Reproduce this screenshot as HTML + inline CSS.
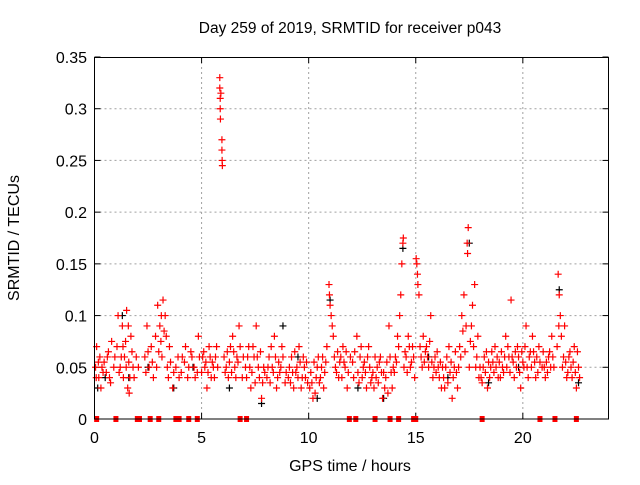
<!DOCTYPE html>
<html><head><meta charset="utf-8"><style>
body{margin:0;background:#fff;width:640px;height:480px;overflow:hidden;font-family:"Liberation Sans",sans-serif}
</style></head><body>
<svg id="chart" width="640" height="480" xmlns="http://www.w3.org/2000/svg" font-family="Liberation Sans, sans-serif" font-size="16">
<text x="350" y="33" text-anchor="middle" font-size="15.5">Day 259 of 2019, SRMTID for receiver p043</text>
<text x="350" y="471" text-anchor="middle">GPS time / hours</text>
<text transform="translate(19,238) rotate(-90)" text-anchor="middle">SRMTID / TECUs</text>
<g id="grid"></g><g id="ticks"></g><g id="marks"></g>
<rect x="94.5" y="57.5" width="514" height="361.5" fill="none" stroke="#000" stroke-width="1"/>
</svg>
<script>
const xTicks=[0,5,10,15,20];
const yTicks=[0,0.05,0.1,0.15,0.2,0.25,0.3,0.35];
const yLabels=["0","0.05","0.1","0.15","0.2","0.25","0.3","0.35"];
const zeroTimes=[0.1,1.0,2.0,2.1,2.6,3.0,3.8,3.95,4.4,4.8,6.8,7.1,11.9,12.2,13.1,13.8,14.2,14.9,15.0,18.1,20.8,21.5,22.5];
const redPts=[[0.05,0.05],[0.1,0.07],[0.2,0.04],[0.25,0.06],[0.3,0.03],[0.4,0.045],[0.45,0.055],[0.6,0.06],[0.7,0.04],[0.8,0.075],[0.9,0.05],
[1.05,0.07],[1.1,0.1],[1.2,0.05],[1.3,0.09],[1.35,0.04],[1.4,0.06],[1.5,0.105],[1.55,0.03],[1.6,0.055],[1.7,0.08],[1.75,0.065],[1.25,0.06],[1.45,0.075],
[1.85,0.04],[1.95,0.06],[2.05,0.05],[2.35,0.06],[2.45,0.09],[2.55,0.05],[2.65,0.07],[2.75,0.04],
[2.85,0.08],[2.95,0.11],[3.05,0.09],[3.15,0.06],[3.2,0.115],[3.3,0.1],[3.4,0.05],[3.5,0.07],[3.1,0.075],[3.25,0.085],
[3.65,0.03],[3.8,0.05],[3.95,0.04],[4.1,0.06],[4.25,0.07],[4.4,0.05],[4.55,0.06],[4.7,0.04],[4.85,0.08],[4.9,0.06],
[5.05,0.06],[5.15,0.05],[5.25,0.03],[5.35,0.07],[5.45,0.04],[5.55,0.05],[5.65,0.06],[5.5,0.055],
[5.85,0.33],[5.85,0.32],[5.87,0.31],[5.87,0.3],[5.88,0.29],[5.95,0.27],[5.95,0.26],[5.96,0.25],[5.97,0.245],[5.9,0.315],
[6.05,0.06],[6.15,0.05],[6.25,0.04],[6.35,0.07],[6.45,0.08],[6.55,0.05],[6.65,0.06],[6.75,0.09],[6.9,0.04],[6.5,0.065],
[7.05,0.05],[7.2,0.07],[7.3,0.03],[7.45,0.06],[7.55,0.09],[7.7,0.04],[7.8,0.02],[7.9,0.05],[7.6,0.06],
[8.05,0.04],[8.15,0.06],[8.3,0.05],[8.4,0.08],[8.5,0.03],[8.65,0.045],[8.75,0.07],[8.9,0.035],[8.6,0.055],
[9.05,0.04],[9.2,0.06],[9.3,0.03],[9.45,0.05],[9.55,0.07],[9.7,0.04],[9.8,0.05],[9.95,0.035],[9.4,0.045],
[10.05,0.03],[10.2,0.02],[10.35,0.04],[10.45,0.06],[10.6,0.05],[10.7,0.03],[10.85,0.07],[10.5,0.035],
[10.95,0.13],[10.97,0.12],[11.0,0.11],[11.05,0.1],[11.1,0.09],[11.15,0.08],
[11.25,0.05],[11.4,0.04],[11.5,0.06],[11.6,0.07],[11.7,0.05],[11.8,0.03],[11.95,0.06],[11.45,0.055],
[12.1,0.04],[12.25,0.08],[12.4,0.06],[12.55,0.05],[12.7,0.03],[12.8,0.07],[12.95,0.04],[12.6,0.055],
[13.05,0.03],[13.2,0.05],[13.35,0.06],[13.45,0.02],[13.6,0.04],[13.75,0.09],[13.9,0.03],[13.5,0.045],
[14.05,0.06],[14.15,0.08],[14.25,0.1],[14.3,0.12],[14.35,0.15],[14.4,0.17],[14.42,0.175],[14.45,0.05],
[14.55,0.06],[14.65,0.08],[14.75,0.05],[14.85,0.07],[14.95,0.04],
[15.02,0.155],[15.05,0.15],[15.08,0.14],[15.1,0.13],[15.15,0.12],
[15.25,0.06],[15.35,0.08],[15.5,0.07],[15.6,0.05],[15.7,0.1],[15.8,0.04],[15.9,0.06],[15.45,0.065],
[16.05,0.05],[16.2,0.03],[16.3,0.04],[16.45,0.06],[16.55,0.07],[16.7,0.02],[16.8,0.05],[16.95,0.03],[16.6,0.045],
[17.05,0.07],[17.15,0.1],[17.25,0.12],[17.4,0.17],[17.45,0.185],[17.42,0.16],[17.35,0.09],[17.5,0.05],
[17.65,0.11],[17.75,0.13],[17.85,0.06],[17.95,0.04],
[18.05,0.04],[18.2,0.06],[18.35,0.03],[18.5,0.05],[18.7,0.07],[18.85,0.04],[18.6,0.055],
[19.05,0.05],[19.2,0.08],[19.35,0.06],[19.45,0.115],[19.6,0.04],[19.75,0.07],[19.9,0.03],[19.5,0.06],
[20.05,0.05],[20.15,0.09],[20.3,0.06],[20.45,0.08],[20.6,0.04],[20.75,0.07],[20.9,0.05],[20.5,0.065],
[21.05,0.04],[21.2,0.06],[21.35,0.08],[21.45,0.05],
[21.65,0.14],[21.7,0.12],[21.75,0.1],[21.8,0.08],[21.9,0.06],[21.95,0.09],
[22.05,0.04],[22.15,0.06],[22.25,0.05],[22.4,0.07],[22.5,0.03],[22.6,0.05]];
const redPts2=[[0.08,0.04],[0.18,0.055],[0.35,0.05],[0.55,0.045],[0.65,0.065],[0.75,0.035],[0.95,0.06],[1.15,0.045],[1.33,0.07],[1.48,0.05],[1.65,0.04],[1.8,0.05],[1.58,0.09],[1.62,0.025],
[2.4,0.045],[2.5,0.065],[2.7,0.055],[2.9,0.05],[3.0,0.065],[3.12,0.1],[3.35,0.08],[3.45,0.04],[3.55,0.055],[3.7,0.045],[3.9,0.06],[4.05,0.045],[4.2,0.055],[4.35,0.04],[4.5,0.065],[4.65,0.05],[4.8,0.045],
[5.0,0.045],[5.1,0.065],[5.2,0.055],[5.3,0.045],[5.4,0.06],[5.6,0.04],[5.7,0.07],[5.75,0.05],
[6.1,0.045],[6.2,0.065],[6.3,0.055],[6.4,0.045],[6.6,0.04],[6.7,0.055],[6.8,0.07],[6.95,0.06],
[7.1,0.04],[7.15,0.06],[7.25,0.05],[7.35,0.045],[7.4,0.07],[7.5,0.035],[7.65,0.05],[7.75,0.065],[7.85,0.035],[7.95,0.045],
[8.1,0.05],[8.2,0.035],[8.25,0.07],[8.35,0.045],[8.45,0.06],[8.55,0.04],[8.7,0.05],[8.8,0.06],[8.95,0.045],
[9.1,0.05],[9.15,0.035],[9.25,0.045],[9.35,0.065],[9.5,0.04],[9.6,0.055],[9.65,0.03],[9.75,0.06],[9.85,0.04],[9.9,0.055],
[10.1,0.045],[10.15,0.035],[10.25,0.055],[10.3,0.025],[10.4,0.05],[10.55,0.04],[10.65,0.06],[10.75,0.045],[10.8,0.055],
[11.2,0.06],[11.3,0.045],[11.35,0.065],[11.55,0.04],[11.65,0.055],[11.75,0.065],[11.85,0.045],
[12.05,0.055],[12.15,0.065],[12.3,0.045],[12.35,0.035],[12.45,0.07],[12.5,0.04],[12.65,0.045],[12.75,0.06],[12.85,0.05],[12.9,0.035],
[13.0,0.045],[13.1,0.06],[13.15,0.04],[13.25,0.035],[13.3,0.055],[13.4,0.045],[13.55,0.03],[13.65,0.055],[13.7,0.025],[13.8,0.06],[13.85,0.045],[13.95,0.05],
[14.0,0.045],[14.1,0.055],[14.2,0.07],[14.5,0.065],[14.6,0.045],[14.7,0.07],[14.8,0.055],[14.9,0.06],
[15.2,0.07],[15.3,0.05],[15.4,0.055],[15.55,0.06],[15.65,0.075],[15.75,0.055],[15.85,0.05],[15.95,0.045],
[16.0,0.065],[16.1,0.04],[16.15,0.055],[16.25,0.05],[16.35,0.03],[16.4,0.05],[16.5,0.035],[16.65,0.055],[16.75,0.04],[16.85,0.065],[16.9,0.045],
[17.0,0.05],[17.1,0.06],[17.2,0.085],[17.3,0.065],[17.55,0.075],[17.6,0.09],[17.7,0.07],[17.8,0.05],[17.9,0.08],
[18.0,0.05],[18.1,0.035],[18.15,0.05],[18.25,0.045],[18.3,0.065],[18.4,0.055],[18.45,0.04],[18.55,0.065],[18.65,0.045],[18.75,0.05],[18.8,0.06],[18.9,0.055],[18.95,0.04],
[19.0,0.065],[19.1,0.045],[19.15,0.06],[19.25,0.05],[19.3,0.07],[19.4,0.045],[19.55,0.055],[19.65,0.065],[19.7,0.05],[19.8,0.06],[19.85,0.045],[19.95,0.065],
[20.0,0.055],[20.1,0.07],[20.2,0.05],[20.25,0.04],[20.35,0.065],[20.4,0.05],[20.55,0.055],[20.65,0.06],[20.7,0.045],[20.8,0.055],[20.95,0.065],
[21.0,0.05],[21.1,0.055],[21.15,0.045],[21.25,0.065],[21.3,0.05],[21.4,0.06],[21.6,0.07],[21.68,0.09],[21.85,0.05],
[22.0,0.055],[22.1,0.045],[22.2,0.065],[22.3,0.04],[22.35,0.055],[22.45,0.045],[22.55,0.065],[22.65,0.04]];
const blackPts=[[0.15,0.03],[0.5,0.04],[1.3,0.1],[1.6,0.04],[2.5,0.05],[3.7,0.03],[4.6,0.05],[6.3,0.03],[7.8,0.015],[8.8,0.09],[9.5,0.06],[10.4,0.02],[11.0,0.115],[12.3,0.03],[13.5,0.02],[14.4,0.165],[15.6,0.06],[16.5,0.04],[17.5,0.17],[18.4,0.035],[19.8,0.05],[21.7,0.125],[22.6,0.035]];
const NS="http://www.w3.org/2000/svg";
const X=t=>94.5+t*(514/24);
const Y=v=>419-v*(362/0.35);
function el(tag,attrs,parent){const e=document.createElementNS(NS,tag);for(const k in attrs)e.setAttribute(k,attrs[k]);parent.appendChild(e);return e;}
const grid=document.getElementById('grid'),ticks=document.getElementById('ticks'),marks=document.getElementById('marks');
xTicks.forEach(t=>{
 if(t>0){const g=el('line',{x1:X(t),x2:X(t),y1:57,y2:419,stroke:'#a0a0a0','stroke-dasharray':'2,3'},grid);
 
 }
 const tl=el('text',{x:X(t),y:443,'text-anchor':'middle'},ticks);tl.textContent=String(t);
 
 
 el('line',{x1:X(t),x2:X(t),y1:419,y2:413,stroke:'#000'},ticks);
 el('line',{x1:X(t),x2:X(t),y1:57,y2:63,stroke:'#000'},ticks);
});
yTicks.forEach((v,i)=>{
 if(v>0&&v<0.35){const g=el('line',{x1:94.5,x2:608.5,y1:Y(v),y2:Y(v),stroke:'#a0a0a0','stroke-dasharray':'2,3'},grid);
 
 }
 const tl=el('text',{x:87,y:Y(v)+6,'text-anchor':'end'},ticks);tl.textContent=yLabels[i];
 
 
 el('line',{x1:94.5,x2:100.5,y1:Y(v),y2:Y(v),stroke:'#000'},ticks);
 el('line',{x1:608.5,x2:602.5,y1:Y(v),y2:Y(v),stroke:'#000'},ticks);
});
function cross(t,v,color,name){
 const x=X(t),y=Y(v);
 const p=el('path',{d:`M${x-3.5} ${y}H${x+3.5}M${x} ${y-3.5}V${y+3.5}`,stroke:color,'stroke-width':1.2,fill:'none'},marks);
 
 
}
blackPts.forEach(p=>cross(p[0],p[1],'#000','black-point'));
redPts.forEach(p=>cross(p[0],p[1],'#f00','red-point'));
redPts2.forEach(p=>cross(p[0],p[1],'#f00','red-point'));
zeroTimes.forEach(t=>{
 const r=el('rect',{x:X(t)-2.5,y:Y(0)-3,width:5,height:6,fill:'#f00'},marks);
 
 
});
</script>
</body></html>
